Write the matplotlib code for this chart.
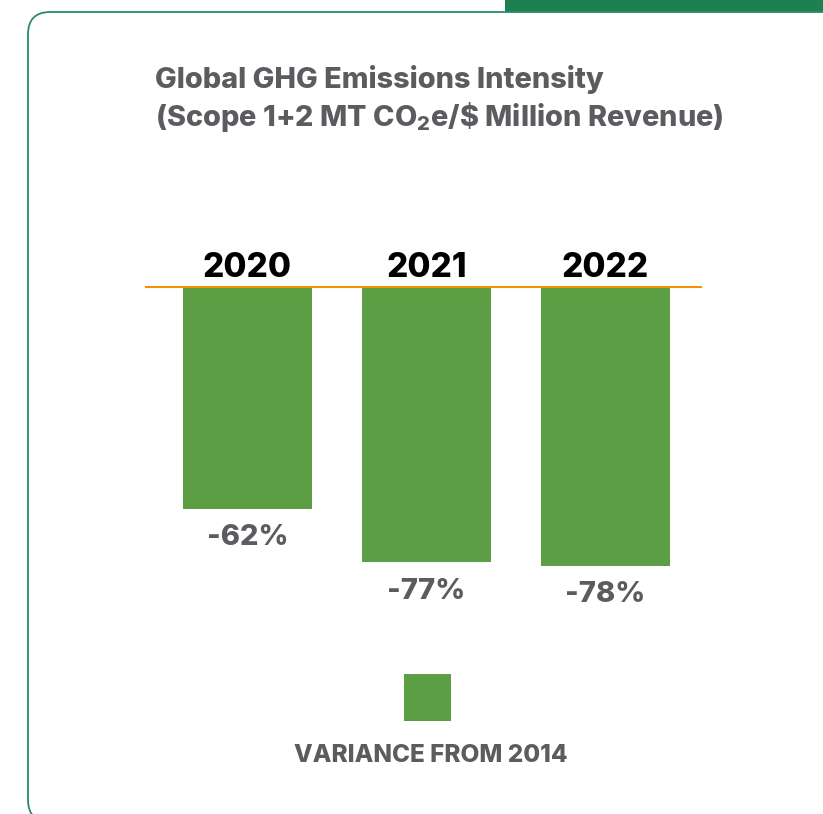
import matplotlib
matplotlib.use("Agg")
import matplotlib.pyplot as plt
from matplotlib.patches import FancyBboxPatch, Rectangle

years = ["2020", "2021", "2022"]
variance = [-62, -77, -78]
bar_labels = ["-62%", "-77%", "-78%"]
title_1 = "Global GHG Emissions Intensity"
title_2 = "(Scope 1+2 MT CO$_2$e/\\$ Million Revenue)"
legend_label = "VARIANCE FROM 2014"

green = "#5c9e43"
dark_green = "#1e8050"
gray = "#5a5c5f"
orange = "#f39200"

plt.rcParams["font.family"] = ["Inter", "DejaVu Sans"]
plt.rcParams["mathtext.fontset"] = "custom"
plt.rcParams["mathtext.rm"] = "Inter:heavy"
plt.rcParams["mathtext.it"] = "Inter:heavy"
plt.rcParams["mathtext.bf"] = "Inter:heavy"
wt = 800

W, H = 823, 814
fig = plt.figure(figsize=(W / 100, H / 100), dpi=100)
fig.patch.set_facecolor("white")

# frame and top tab
fig.patches.append(Rectangle((505 / W, 1 - 12 / H), 1, 12 / H, transform=fig.transFigure,
                             color=dark_green, lw=0))
fig.patches.append(FancyBboxPatch((28 / W, -8 / H), 1.2, 1 - 12 / H + 8 / H,
                                  boxstyle="round,pad=0,rounding_size=0.027",
                                  transform=fig.transFigure, fill=False,
                                  ec="#2a8a66", lw=1.3, mutation_aspect=W / H))

# titles
fig.text(155 / W, 1 - 79 / H, title_1, fontsize=20.8, fontweight=wt, color=gray,
         va="center", ha="left")
fig.text(155 / W, 1 - 117 / H, title_2, fontsize=20.8, fontweight=wt, color=gray,
         va="center", ha="left")

# bars
top, bottom = 287, 620
scale = (566 - 287) / 78
ax = fig.add_axes([146 / W, 1 - bottom / H, (701 - 146) / W, (bottom - top) / H])
x = list(range(len(years)))
ax.bar(x, variance, width=0.72, color=green, zorder=2)
ax.set_xlim(-0.567, 2.534)
ax.set_ylim(-(bottom - top) / scale, 0)
ax.plot([-0.567, 2.534], [0, 0], color=orange, lw=1.5, zorder=3, clip_on=False)
ax.axis("off")

for i, (yr, v, lab) in enumerate(zip(years, variance, bar_labels)):
    ax.annotate(yr, (i, 0), xytext=(0, 19), textcoords="offset pixels",
                ha="center", va="center", fontsize=24, fontweight=wt, color="black")
    ax.annotate(lab, (i, v), xytext=(0, -29), textcoords="offset pixels",
                ha="center", va="center", fontsize=21, fontweight=wt, color=gray,
                annotation_clip=False)

# legend
fig.patches.append(Rectangle((404 / W, 1 - 721 / H), 47 / W, 47 / H,
                             transform=fig.transFigure, color=green, lw=0))
fig.text(431 / W, 1 - 756 / H, legend_label, fontsize=17.5, fontweight=wt, color=gray,
         ha="center", va="center")

fig.savefig("out.png", dpi=100)
